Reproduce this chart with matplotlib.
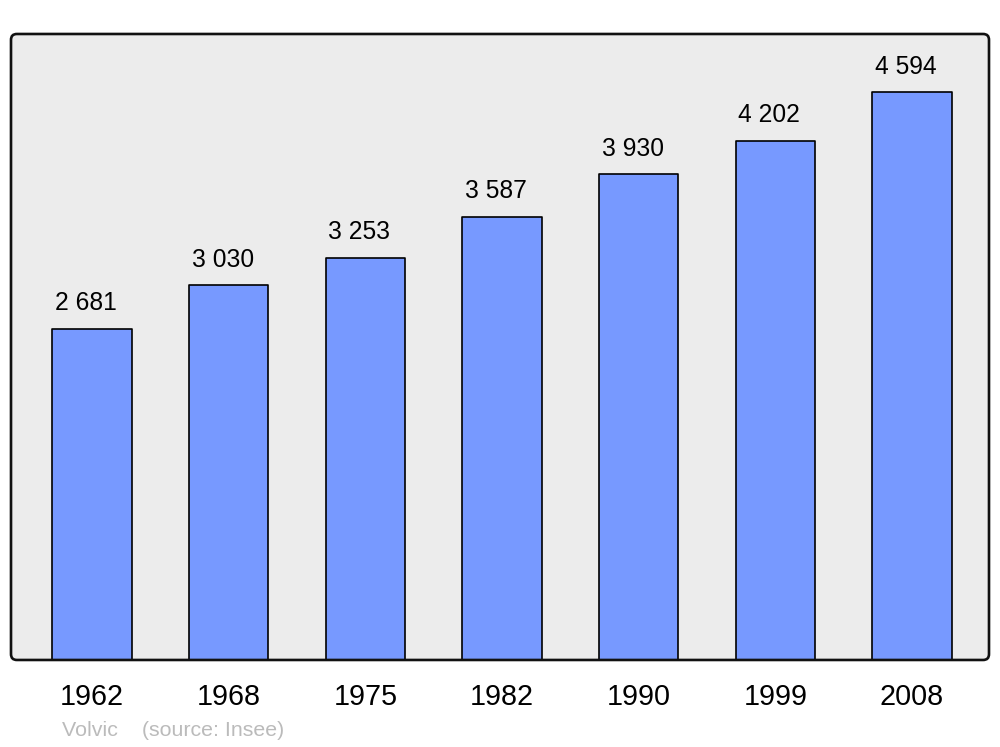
import matplotlib.pyplot as plt
from matplotlib.patches import FancyBboxPatch

plt.rcParams['font.family'] = ['Liberation Sans', 'DejaVu Sans']

years = ['1962', '1968', '1975', '1982', '1990', '1999', '2008']
population = [2681, 3030, 3253, 3587, 3930, 4202, 4594]
labels = ['2 681', '3 030', '3 253', '3 587', '3 930', '4 202', '4 594']
source = 'Volvic    (source: Insee)'

fig = plt.figure(figsize=(10, 7.47), dpi=100)
ax = fig.add_axes([0.011, 0.1165, 0.978, 0.838])
ax.set_facecolor('#ececec')

x = list(range(len(years)))
bars = ax.bar(x, population, width=0.58, color='#7799ff', edgecolor='black',
              linewidth=1.2, joinstyle='round', zorder=2)

for b, lab in zip(bars, labels):
    ax.annotate(lab, (b.get_x() + b.get_width() / 2, b.get_height()),
                xytext=(-4.3, 18.5), textcoords='offset points',
                ha='center', va='center', fontsize=17.7, color='black')

ax.set_xlim(-0.593, 6.563)
ax.set_ylim(0, 5065)
ax.set_yticks([])
ax.set_xticks(x, years, fontsize=20.7)
ax.tick_params(axis='x', length=0, pad=16.5)

for s in ax.spines.values():
    s.set_visible(False)

# rounded frame around the plot area
frame = FancyBboxPatch((0, 0), 1, 1, boxstyle='round,pad=0,rounding_size=0.006',
                       mutation_aspect=978 / 626, transform=ax.transAxes,
                       facecolor='none', edgecolor='#111111', linewidth=1.9,
                       clip_on=False, zorder=5)
ax.add_patch(frame)

fig.text(0.062, 1 - 730 / 747, source, fontsize=15.4, color='#bbbbbb',
         ha='left', va='center')

fig.savefig('out.png', dpi=100)
